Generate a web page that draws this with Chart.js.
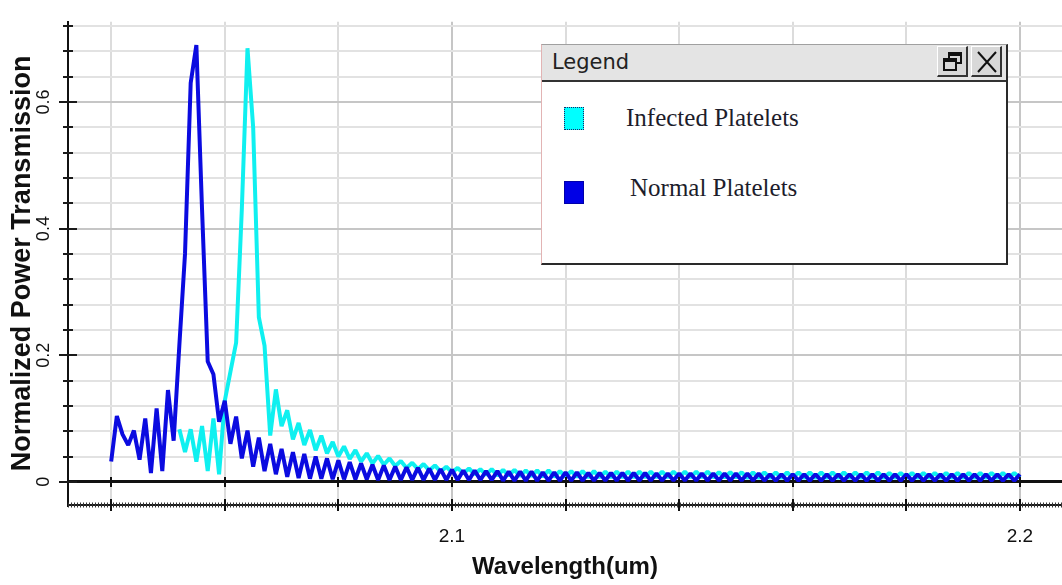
<!DOCTYPE html>
<html lang="en">
<head>
  <meta charset="UTF-8">
  <title>Normalized Power Transmission</title>
  <script src="https://cdn.jsdelivr.net/npm/chart.js"></script>
  <style>
    html, body { margin: 0; padding: 0; background: #fff; }
    .wrap { position: relative; width: 1062px; height: 585px; }
    #legend-box {
      position: absolute; left: 541px; top: 44px; width: 467px; height: 221px;
      box-sizing: border-box; background: #fff;
      border-top: 1px solid #a0a0a0; border-left: 1px solid #e2b4b4;
      border-right: 2px solid #2a2a2a; border-bottom: 2px solid #2a2a2a;
    }
    .lg-head {
      position: relative; height: 37px; background: #e4e4e4;
      border-bottom: 2px solid #333; box-sizing: border-box;
    }
    .lg-title {
      position: absolute; left: 10px; top: 5px;
      font: 21px "DejaVu Sans", sans-serif; color: #222;
    }
    .lg-btn {
      position: absolute; top: 1px; width: 31px; height: 31px; box-sizing: border-box;
      background: #d8d8d8; border-top: 1px solid #fff; border-left: 1px solid #fff;
      border-right: 2px solid #333; border-bottom: 2px solid #333;
    }
    .lg-btn svg { position: absolute; left: 3px; top: 3px; }
    .lg-swatch { position: absolute; left: 22px; width: 20px; height: 23px; box-sizing: border-box; }
    .lg-text {
      position: absolute; font: 25px "Liberation Serif", serif; color: #1d1d2b;
      line-height: 28px; white-space: nowrap;
    }
  </style>
</head>
<body>
  <div class="wrap">
    <canvas id="myChart" width="1062" height="585"></canvas>
    <div id="legend-box">
      <div class="lg-head">
        <div class="lg-title">Legend</div>
        <div class="lg-btn" style="left: 395px;">
          <svg width="24" height="24" viewBox="0 0 24 24">
            <rect x="8" y="3" width="12" height="10" fill="none" stroke="#111" stroke-width="2"/>
            <rect x="8" y="3" width="12" height="3" fill="#111"/>
            <rect x="3" y="9" width="12" height="11" fill="#d8d8d8" stroke="#111" stroke-width="2"/>
            <rect x="3" y="9" width="12" height="3" fill="#111"/>
          </svg>
        </div>
        <div class="lg-btn" style="left: 429px;">
          <svg width="24" height="24" viewBox="0 0 24 24">
            <path d="M3 2 L21 22 M21 2 L3 22" stroke="#111" stroke-width="2"/>
          </svg>
        </div>
      </div>
      <div id="legend-rows"></div>
    </div>
  </div>

  <script>
    // wavelength samples (um)
    const wavelength = [
      2.040, 2.041, 2.042, 2.043, 2.044, 2.045, 2.046, 2.047, 2.048, 2.049,
      2.050, 2.051, 2.052, 2.053, 2.054, 2.055, 2.056, 2.057, 2.058, 2.059,
      2.060, 2.061, 2.062, 2.063, 2.064, 2.065, 2.066, 2.067, 2.068, 2.069,
      2.070, 2.071, 2.072, 2.073, 2.074, 2.075, 2.076, 2.077, 2.078, 2.079,
      2.080, 2.081, 2.082, 2.083, 2.084, 2.085, 2.086, 2.087, 2.088, 2.089,
      2.090, 2.091, 2.092, 2.093, 2.094, 2.095, 2.096, 2.097, 2.098, 2.099,
      2.100, 2.101, 2.102, 2.103, 2.104, 2.105, 2.106, 2.107, 2.108, 2.109,
      2.110, 2.111, 2.112, 2.113, 2.114, 2.115, 2.116, 2.117, 2.118, 2.119,
      2.120, 2.121, 2.122, 2.123, 2.124, 2.125, 2.126, 2.127, 2.128, 2.129,
      2.130, 2.131, 2.132, 2.133, 2.134, 2.135, 2.136, 2.137, 2.138, 2.139,
      2.140, 2.141, 2.142, 2.143, 2.144, 2.145, 2.146, 2.147, 2.148, 2.149,
      2.150, 2.151, 2.152, 2.153, 2.154, 2.155, 2.156, 2.157, 2.158, 2.159,
      2.160, 2.161, 2.162, 2.163, 2.164, 2.165, 2.166, 2.167, 2.168, 2.169,
      2.170, 2.171, 2.172, 2.173, 2.174, 2.175, 2.176, 2.177, 2.178, 2.179,
      2.180, 2.181, 2.182, 2.183, 2.184, 2.185, 2.186, 2.187, 2.188, 2.189,
      2.190, 2.191, 2.192, 2.193, 2.194, 2.195, 2.196, 2.197, 2.198, 2.199,
      2.200
    ];

    const infectedT = [
      null, null, null, null, null, null, null, null, null, null,
      null, null, 0.083, 0.047, 0.083, 0.032, 0.088, 0.017, 0.100, 0.012,
      0.128, 0.174, 0.220, 0.430, 0.685, 0.560, 0.260, 0.215, 0.073, 0.146,
      0.088, 0.113, 0.067, 0.093, 0.058, 0.082, 0.050, 0.073, 0.045, 0.063,
      0.040, 0.056, 0.036, 0.050, 0.032, 0.045, 0.029, 0.041, 0.027, 0.037,
      0.025, 0.033, 0.022, 0.030, 0.020, 0.028, 0.018, 0.026, 0.016, 0.024,
      0.015, 0.022, 0.013, 0.021, 0.012, 0.020, 0.011, 0.020, 0.010, 0.019,
      0.010, 0.019, 0.009, 0.018, 0.009, 0.018, 0.008, 0.018, 0.008, 0.017,
      0.008, 0.017, 0.008, 0.017, 0.007, 0.017, 0.007, 0.016, 0.007, 0.016,
      0.007, 0.016, 0.007, 0.016, 0.007, 0.016, 0.007, 0.016, 0.007, 0.016,
      0.007, 0.016, 0.007, 0.016, 0.007, 0.016, 0.007, 0.015, 0.007, 0.015,
      0.007, 0.015, 0.006, 0.015, 0.006, 0.015, 0.006, 0.015, 0.006, 0.015,
      0.006, 0.015, 0.006, 0.015, 0.006, 0.015, 0.006, 0.015, 0.006, 0.015,
      0.006, 0.015, 0.006, 0.015, 0.006, 0.015, 0.006, 0.014, 0.006, 0.014,
      0.006, 0.014, 0.006, 0.014, 0.006, 0.014, 0.006, 0.014, 0.006, 0.014,
      0.006, 0.014, 0.006, 0.014, 0.006, 0.014, 0.006, 0.014, 0.006, 0.014,
      0.006
    ];

    const normalT = [
      0.032, 0.104, 0.075, 0.058, 0.081, 0.035, 0.100, 0.014, 0.116, 0.017,
      0.145, 0.065, 0.215, 0.360, 0.630, 0.690, 0.430, 0.190, 0.170, 0.095,
      0.128, 0.060, 0.103, 0.037, 0.081, 0.024, 0.070, 0.017, 0.060, 0.012,
      0.052, 0.008, 0.047, 0.006, 0.044, 0.005, 0.040, 0.005, 0.037, 0.004,
      0.034, 0.004, 0.031, 0.004, 0.029, 0.004, 0.027, 0.003, 0.026, 0.003,
      0.024, 0.003, 0.023, 0.003, 0.022, 0.003, 0.021, 0.003, 0.020, 0.003,
      0.019, 0.003, 0.018, 0.003, 0.018, 0.003, 0.017, 0.003, 0.017, 0.002,
      0.016, 0.002, 0.016, 0.002, 0.016, 0.002, 0.015, 0.002, 0.015, 0.002,
      0.015, 0.002, 0.015, 0.002, 0.014, 0.002, 0.014, 0.002, 0.014, 0.002,
      0.014, 0.002, 0.014, 0.002, 0.014, 0.002, 0.013, 0.002, 0.013, 0.002,
      0.013, 0.002, 0.013, 0.002, 0.013, 0.002, 0.013, 0.002, 0.013, 0.002,
      0.013, 0.002, 0.013, 0.002, 0.013, 0.002, 0.012, 0.002, 0.012, 0.002,
      0.012, 0.002, 0.012, 0.002, 0.012, 0.002, 0.012, 0.002, 0.012, 0.002,
      0.012, 0.002, 0.012, 0.002, 0.012, 0.002, 0.012, 0.002, 0.012, 0.002,
      0.012, 0.002, 0.012, 0.002, 0.012, 0.002, 0.012, 0.002, 0.012, 0.002,
      0.012, 0.002, 0.012, 0.002, 0.012, 0.002, 0.012, 0.002, 0.012, 0.002,
      0.012
    ];

    const xTicks = [2.04, 2.06, 2.08, 2.10, 2.12, 2.14, 2.16, 2.18, 2.20];
    const xLabeled = [2.10, 2.20];
    const xTickLabels = ['2.1', '2.2'];

    const yTicks = [0, 0.04, 0.08, 0.12, 0.16, 0.20, 0.24, 0.28, 0.32, 0.36,
      0.40, 0.44, 0.48, 0.52, 0.56, 0.60, 0.64, 0.68, 0.72];
    const yLabeled = [0, 0.2, 0.4, 0.6];
    const yTickLabels = ['0', '0.2', '0.4', '0.6'];

    const labelFor = (v, values, labels) => {
      const i = values.findIndex(t => Math.abs(t - v) < 1e-6);
      return i < 0 ? '' : labels[i];
    };

    const toPoints = (ys) => wavelength
      .map((w, i) => ({ x: w, y: ys[i] }))
      .filter(p => p.y !== null);

    // tick marks crossing the axes and the dotted bottom axis
    const axisMarks = {
      id: 'axisMarks',
      afterDraw(chart) {
        const { ctx, chartArea, scales: { x, y } } = chart;
        ctx.save();
        ctx.strokeStyle = '#1a1a1a';
        ctx.lineWidth = 2;

        yTicks.forEach(v => {
          const py = Math.round(y.getPixelForValue(v));
          const half = labelFor(v, yLabeled, yTickLabels) ? 9 : 5;
          ctx.beginPath();
          ctx.moveTo(chartArea.left - half, py);
          ctx.lineTo(chartArea.left + half, py);
          ctx.stroke();
        });

        const by = chartArea.bottom;
        const zy = Math.round(y.getPixelForValue(0));
        ctx.beginPath();
        ctx.moveTo(chartArea.left, by);
        ctx.lineTo(chartArea.right, by);
        ctx.stroke();
        ctx.setLineDash([1, 2]);
        ctx.lineWidth = 5;
        ctx.strokeStyle = '#333';
        ctx.beginPath();
        ctx.moveTo(chartArea.left, by);
        ctx.lineTo(chartArea.right, by);
        ctx.stroke();
        ctx.setLineDash([]);

        ctx.strokeStyle = '#111';
        ctx.lineWidth = 2;
        xTicks.forEach(v => {
          const px = Math.round(x.getPixelForValue(v));
          ctx.beginPath();
          ctx.moveTo(px, by - 6);
          ctx.lineTo(px, by + 6);
          ctx.moveTo(px, zy - 5);
          ctx.lineTo(px, zy + 5);
          ctx.stroke();
        });
        ctx.restore();
      }
    };

    const ctx = document.getElementById('myChart');

    const myChart = new Chart(ctx, {
      type: 'line',
      data: {
        datasets: [{
          label: 'Infected Platelets',
          data: toPoints(infectedT),
          borderColor: '#0ff0f0',
          backgroundColor: '#00ffff',
          borderWidth: 4,
          order: 2,
        }, {
          label: 'Normal Platelets',
          data: toPoints(normalT),
          borderColor: '#0b0be0',
          backgroundColor: '#0000e6',
          borderWidth: 4,
          order: 1,
        }]
      },
      options: {
        responsive: false,
        animation: false,
        devicePixelRatio: 1,
        layout: { padding: { top: 5, right: 0, bottom: 0, left: 0 } },
        elements: {
          point: { radius: 0 },
          line: { tension: 0, borderJoinStyle: 'bevel' }
        },
        plugins: {
          legend: { display: false },
          tooltip: { enabled: false }
        },
        scales: {
          x: {
            type: 'linear',
            min: 2.0324,
            max: 2.2074,
            afterBuildTicks: (s) => { s.ticks = xTicks.map(v => ({ value: v })); },
            afterFit: (s) => { s.height = 80; },
            border: { display: false },
            grid: {
              drawTicks: false,
              lineWidth: 2,
              color: (c) => labelFor(c.tick.value, xLabeled, xTickLabels) ? '#c6c6c6' : '#dcdcdc'
            },
            ticks: {
              autoSkip: false,
              maxRotation: 0,
              padding: 20,
              color: '#111',
              font: { family: 'Liberation Sans', size: 19 },
              callback: (v) => labelFor(v, xLabeled, xTickLabels)
            },
            title: {
              display: true,
              text: 'Wavelength(um)',
              color: '#111',
              font: { family: 'Liberation Sans', size: 24, weight: 'bold' },
              padding: { top: 0, bottom: 3 }
            }
          },
          y: {
            min: -0.0366,
            max: 0.7267,
            afterBuildTicks: (s) => { s.ticks = yTicks.map(v => ({ value: v })); },
            afterFit: (s) => { s.width = 68; },
            border: { display: true, color: '#111', width: 2 },
            grid: {
              drawTicks: false,
              lineWidth: (c) => c.tick.value === 0 ? 3 : 2,
              color: (c) => {
                if (c.tick.value === 0) return '#111';
                return labelFor(c.tick.value, yLabeled, yTickLabels) ? '#c6c6c6' : '#e2e2e2';
              }
            },
            ticks: {
              autoSkip: false,
              minRotation: 90,
              maxRotation: 90,
              crossAlign: 'center',
              padding: 11,
              color: '#111',
              font: { family: 'Liberation Sans', size: 18 },
              callback: (v) => labelFor(v, yLabeled, yTickLabels)
            },
            title: {
              display: true,
              text: 'Normalized Power Transmission',
              color: '#111',
              font: { family: 'Liberation Sans', size: 27, weight: 'bold' },
              padding: { top: 6, bottom: 0 }
            }
          }
        }
      },
      plugins: [axisMarks]
    });

    // windowed legend, rows taken from the datasets
    const rows = document.getElementById('legend-rows');
    const legendOrder = [0, 1];
    legendOrder.forEach((di, k) => {
      const ds = myChart.data.datasets[di];
      const sw = document.createElement('div');
      sw.className = 'lg-swatch';
      sw.style.top = (62 + k * 74) + 'px';
      sw.style.background = ds.backgroundColor;
      sw.style.border = k === 0 ? '1.5px dotted #226' : '1px solid #00a';
      const tx = document.createElement('div');
      tx.className = 'lg-text';
      tx.style.left = (84 + k * 4) + 'px';
      tx.style.top = (59 + k * 70) + 'px';
      tx.textContent = ds.label;
      rows.appendChild(sw);
      rows.appendChild(tx);
    });
  </script>
</body>
</html>
